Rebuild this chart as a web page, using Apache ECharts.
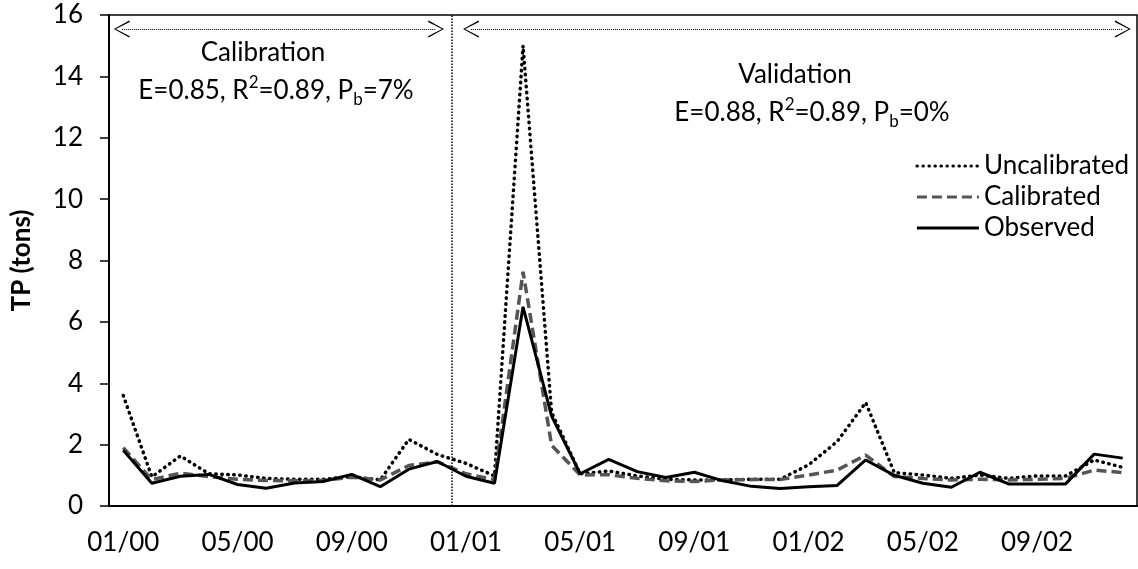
<!DOCTYPE html>
<html>
<head>
<meta charset="utf-8">
<script src="https://cdn.jsdelivr.net/npm/echarts@6/dist/echarts.min.js"></script>
<style>
html, body { margin: 0; padding: 0; background: #fff; }
#chart { width: 1138px; height: 569px; }
</style>
</head>
<body>
<div id="chart"></div>
<script>
var myChart = echarts.init(document.getElementById('chart'));

// monthly values, 01/2000 - 12/2002
var months = [
	'01/00', '02/00', '03/00', '04/00', '05/00', '06/00', '07/00', '08/00', '09/00', '10/00', '11/00', '12/00',
	'01/01', '02/01', '03/01', '04/01', '05/01', '06/01', '07/01', '08/01', '09/01', '10/01', '11/01', '12/01',
	'01/02', '02/02', '03/02', '04/02', '05/02', '06/02', '07/02', '08/02', '09/02', '10/02', '11/02', '12/02'
];

var uncalibrated = [
	3.6, 0.95, 1.63, 1.05, 1.01, 0.9, 0.87, 0.87, 0.96, 0.85, 2.17, 1.68,
	1.39, 0.98, 15.0, 3.05, 1.05, 1.14, 0.98, 0.87, 0.85, 0.85, 0.87, 0.87,
	1.34, 2.1, 3.37, 1.09, 1.01, 0.9, 1.01, 0.9, 0.98, 0.98, 1.5, 1.26
];

var calibrated = [
	1.9, 0.86, 1.07, 0.96, 0.87, 0.83, 0.82, 0.83, 0.94, 0.85, 1.32, 1.44,
	1.05, 0.86, 7.63, 1.98, 1.01, 1.02, 0.9, 0.82, 0.8, 0.85, 0.86, 0.86,
	1.01, 1.17, 1.66, 0.96, 0.9, 0.85, 0.87, 0.85, 0.87, 0.9, 1.17, 1.09
];

var observed = [
	1.82, 0.74, 0.97, 1.03, 0.7, 0.58, 0.75, 0.8, 1.03, 0.63, 1.2, 1.45,
	0.97, 0.74, 6.49, 2.93, 1.05, 1.52, 1.12, 0.93, 1.1, 0.82, 0.64, 0.57,
	0.63, 0.67, 1.5, 1.0, 0.74, 0.61, 1.1, 0.72, 0.72, 0.72, 1.69, 1.56
];

var FONT = 'Lato';
var chevron = 'path://M0,20 L10,0 L20,20 L18.4,20.8 L10,2.6 L1.6,20.8 Z';

var richText = {
	n: { fontSize: 26, fontFamily: FONT, fill: '#000', lineHeight: 34 },
	sup: { fontSize: 17, fontFamily: FONT, fill: '#000', verticalAlign: 'top' },
	sub: { fontSize: 17, fontFamily: FONT, fill: '#000', verticalAlign: 'bottom' }
};

var option = {
	animation: false,
	textStyle: {
		fontFamily: FONT
	},
	grid: {
		left: 109,
		right: 1,
		top: 15,
		bottom: 63,
		show: true,
		borderColor: '#000',
		borderWidth: 1.5,
		outerBoundsMode: 'none'
	},
	legend: {
		orient: 'vertical',
		right: 4,
		top: 148,
		itemWidth: 62,
		itemHeight: 14,
		itemGap: 5,
		itemStyle: {
			opacity: 0
		},
		lineStyle: {
			width: 3
		},
		textStyle: {
			fontSize: 26,
			fontFamily: FONT,
			color: '#000',
			lineHeight: 26
		},
		data: ['Uncalibrated', 'Calibrated', 'Observed']
	},
	xAxis: [{
			type: 'category',
			data: months,
			boundaryGap: true,
			axisLine: {
				lineStyle: { color: '#000', width: 2 }
			},
			axisTick: {
				interval: 3,
				length: 9,
				lineStyle: { color: '#000', width: 1.5 }
			},
			axisLabel: {
				interval: 3,
				margin: 24,
				fontSize: 26,
				color: '#000'
			},
			splitLine: { show: false }
		},
		{
			type: 'value',
			min: 0,
			max: 36,
			show: false
		}
	],
	yAxis: {
		type: 'value',
		min: 0,
		max: 16,
		interval: 2,
		name: 'TP (tons)',
		nameLocation: 'middle',
		nameGap: 74,
		nameTextStyle: {
			fontSize: 26,
			fontWeight: 'bold',
			color: '#000'
		},
		axisLine: {
			show: true,
			lineStyle: { color: '#000', width: 2 }
		},
		axisTick: {
			show: true,
			length: 9,
			lineStyle: { color: '#000', width: 1.5 }
		},
		axisLabel: {
			margin: 26,
			fontSize: 26,
			color: '#000'
		},
		splitLine: { show: false }
	},
	graphic: [{
			type: 'text',
			x: 263,
			y: 53,
			style: {
				text: 'Calibration',
				font: '26px ' + FONT,
				fill: '#000',
				align: 'center',
				verticalAlign: 'middle'
			}
		},
		{
			type: 'text',
			x: 276,
			y: 91,
			style: {
				text: '{n|E=0.85, R}{sup|2}{n|=0.89, P}{sub|b}{n|=7%}',
				rich: richText,
				align: 'center',
				verticalAlign: 'middle'
			}
		},
		{
			type: 'text',
			x: 795,
			y: 75,
			style: {
				text: 'Validation',
				font: '26px ' + FONT,
				fill: '#000',
				align: 'center',
				verticalAlign: 'middle'
			}
		},
		{
			type: 'text',
			x: 812,
			y: 113,
			style: {
				text: '{n|E=0.88, R}{sup|2}{n|=0.89, P}{sub|b}{n|=0%}',
				rich: richText,
				align: 'center',
				verticalAlign: 'middle'
			}
		}
	],
	series: [{
			name: 'Uncalibrated',
			type: 'line',
			data: uncalibrated,
			symbol: 'none',
			lineStyle: {
				color: '#000',
				width: 3.5,
				type: [0.5, 5.5],
				cap: 'round'
			},
			itemStyle: { color: '#000' }
		},
		{
			name: 'Calibrated',
			type: 'line',
			data: calibrated,
			symbol: 'none',
			lineStyle: {
				color: '#555',
				width: 3.5,
				type: [10, 5]
			},
			itemStyle: { color: '#555' }
		},
		{
			name: 'Observed',
			type: 'line',
			data: observed,
			symbol: 'none',
			lineStyle: {
				color: '#000',
				width: 3
			},
			itemStyle: { color: '#000' }
		},
		{
			// period arrows and separator
			type: 'line',
			xAxisIndex: 1,
			data: [],
			silent: true,
			markLine: {
				silent: true,
				animation: false,
				symbol: [chevron, chevron],
				symbolSize: [17, 16],
				label: { show: false },
				lineStyle: {
					color: '#000',
					width: 1,
					type: [1, 1]
				},
				data: [
					[{ coord: [0.45, 15.54] }, { coord: [11.45, 15.54] }],
					[{ coord: [12.68, 15.54] }, { coord: [35.5, 15.54] }],
					[{
						coord: [12, 0],
						symbol: 'none',
						lineStyle: { width: 1.5, type: [1.5, 1.5] }
					}, {
						coord: [12, 16],
						symbol: 'none'
					}]
				]
			}
		}
	]
};

myChart.setOption(option);
</script>
</body>
</html>
